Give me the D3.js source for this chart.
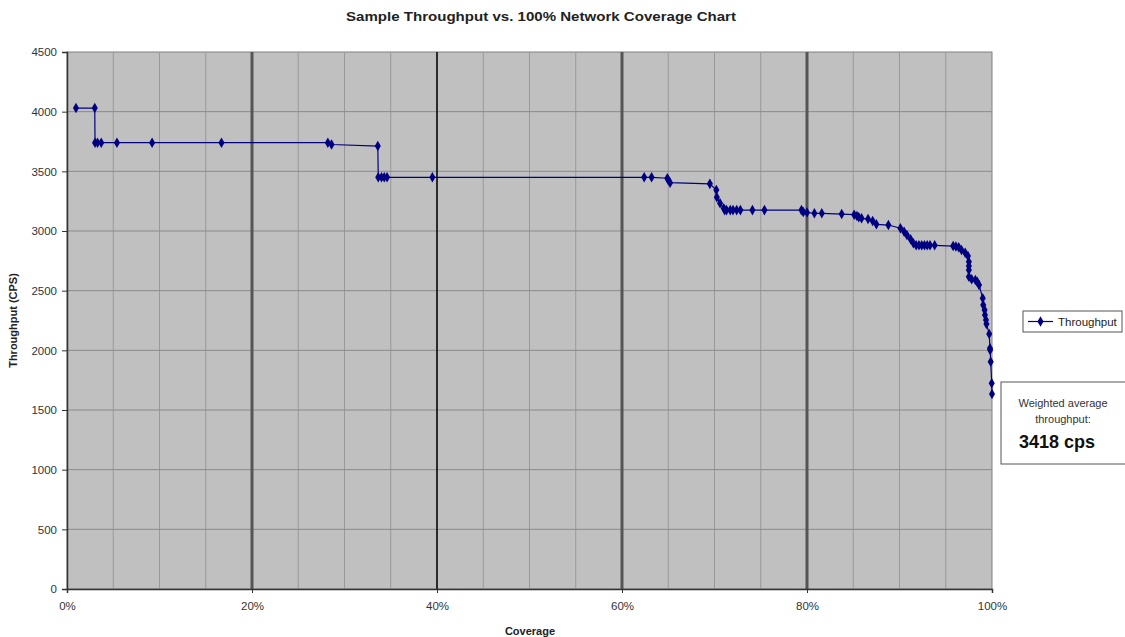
<!DOCTYPE html>
<html>
<head>
<meta charset="utf-8">
<script src="https://cdn.jsdelivr.net/npm/d3@7"></script>
<style>
  html, body { margin: 0; padding: 0; background: #fff; }
  svg { display: block; font-family: "Liberation Sans", Arial, sans-serif; }
</style>
</head>
<body>
<svg id="chart" width="1125" height="637"></svg>
<script>
// values
const coverage = [
  0.97, 3.0, 3.03, 3.3, 3.7, 5.4, 9.2, 16.7, 28.2, 28.6,
  33.6, 33.65, 34.0, 34.3, 34.6, 39.5, 62.4, 63.2,
  64.9, 65.0, 65.2, 69.5, 70.2, 70.25, 70.6, 71.0,
  71.1, 71.3, 71.7, 72.0, 72.4, 72.8, 74.1, 75.4, 79.4,
  79.6, 80.0, 80.8, 81.6, 83.75, 85.1, 85.4, 85.6, 85.9, 86.6,
  87.1, 87.5, 88.8, 90.1, 90.5, 90.8, 91.2, 91.5,
  91.8, 92.1, 92.4, 92.7, 93.0, 93.3, 93.8,
  95.8, 96.1, 96.4, 96.7, 97.1, 97.4, 97.5, 97.5, 97.5, 97.5,
  97.8, 98.2, 98.4, 98.6, 99.0, 99.05, 99.2, 99.24, 99.35, 99.4,
  99.7, 99.78, 99.8, 99.86, 99.97, 100
];
const throughput = [
  4030, 4030, 3740, 3740, 3740, 3740, 3740, 3740, 3740, 3725,
  3712, 3450, 3450, 3450, 3450, 3450, 3450, 3450,
  3442, 3427, 3405, 3395, 3344, 3282, 3232, 3190,
  3175, 3175, 3175, 3175, 3175, 3175, 3175, 3175, 3175,
  3160, 3155, 3148, 3148, 3142, 3137, 3126, 3115, 3106, 3100,
  3084, 3056, 3050, 3023, 2994, 2967, 2930, 2897,
  2880, 2880, 2880, 2880, 2880, 2880, 2880,
  2874, 2870, 2863, 2841, 2818, 2791, 2743, 2707, 2673, 2617,
  2595, 2589, 2575, 2548, 2436, 2380, 2338, 2296, 2254, 2221,
  2137, 2017, 2003, 1905, 1724, 1634
];

const yTicks = [0, 500, 1000, 1500, 2000, 2500, 3000, 3500, 4000, 4500];
const xTicks = [0, 20, 40, 60, 80, 100];
const heavyLines = [20, 60, 80];   // thick grey verticals
const blackLines = [40];           // thin black vertical

const titleText = "Sample Throughput vs. 100% Network Coverage Chart";
const noteLines = ["Weighted average", "throughput:"];
const noteValue = "3418 cps";

const rows = coverage.map((c, i) => ({ c: c, t: throughput[i] }));

const svg = d3.select("#chart");
const margin = { top: 52, left: 67, right: 133, bottom: 48 };
const W = 1125, H = 637;
const innerW = W - margin.left - margin.right;
const innerH = H - margin.top - margin.bottom;

const x = d3.scaleLinear().domain([0, 100]).range([margin.left, margin.left + innerW]);
const y = d3.scaleLinear().domain([0, 4500]).range([margin.top + innerH, margin.top]);

// plot background
svg.append("rect")
  .attr("x", x(0)).attr("y", y(4500))
  .attr("width", innerW).attr("height", innerH)
  .attr("fill", "#c0c0c0")
  .attr("stroke", "#808080");

// grid
svg.append("g").selectAll("line")
  .data(d3.range(5, 100, 5))
  .join("line")
  .attr("x1", d => x(d)).attr("x2", d => x(d))
  .attr("y1", y(0)).attr("y2", y(4500))
  .attr("stroke", "#999")
  .attr("stroke-width", 1);

svg.append("g").selectAll("line")
  .data(yTicks.slice(1, -1))
  .join("line")
  .attr("x1", x(0)).attr("x2", x(100))
  .attr("y1", d => y(d)).attr("y2", d => y(d))
  .attr("stroke", "#8a8a8a")
  .attr("stroke-width", 1);

svg.append("g").selectAll("line")
  .data(heavyLines)
  .join("line")
  .attr("x1", d => x(d)).attr("x2", d => x(d))
  .attr("y1", y(0)).attr("y2", y(4500))
  .attr("stroke", "#555")
  .attr("stroke-width", 3);

svg.append("g").selectAll("line")
  .data(blackLines)
  .join("line")
  .attr("x1", d => x(d)).attr("x2", d => x(d))
  .attr("y1", y(0)).attr("y2", y(4500))
  .attr("stroke", "#000")
  .attr("stroke-width", 1.5);

// axes
const yAxis = svg.append("g")
  .attr("transform", `translate(${x(0)},0)`)
  .call(d3.axisLeft(y).tickValues(yTicks).tickSize(5).tickPadding(5).tickFormat(d3.format("d")));
const xAxis = svg.append("g")
  .attr("transform", `translate(0,${y(0)})`)
  .call(d3.axisBottom(x).tickValues(xTicks).tickSize(4).tickPadding(9).tickFormat(d => d + "%"));

[yAxis, xAxis].forEach(a => {
  a.select(".domain").attr("stroke", "#333").attr("stroke-width", 1.5);
  a.selectAll(".tick line").attr("stroke", "#333");
  a.selectAll(".tick text")
    .attr("fill", "#333")
    .style("font-size", "11.5px")
    .style("font-family", "'Liberation Sans', Arial, sans-serif");
});

// series
const line = d3.line().x(d => x(d.c)).y(d => y(d.t));
svg.append("path")
  .datum(rows)
  .attr("d", line)
  .attr("fill", "none")
  .attr("stroke", "#000080")
  .attr("stroke-width", 1.2);

const diamond = d3.symbol().type(d3.symbolDiamond).size(32);
svg.append("g").selectAll("path")
  .data(rows)
  .join("path")
  .attr("transform", d => `translate(${x(d.c)},${y(d.t)})`)
  .attr("d", diamond)
  .attr("fill", "#000080");

// title and axis labels
svg.append("text")
  .attr("x", 541).attr("y", 21)
  .attr("text-anchor", "middle")
  .attr("textLength", 390).attr("lengthAdjust", "spacingAndGlyphs")
  .style("font-size", "13px").style("font-weight", "bold")
  .attr("fill", "#222")
  .text(titleText);

svg.append("text")
  .attr("transform", `translate(17,${margin.top + innerH / 2}) rotate(-90)`)
  .attr("text-anchor", "middle")
  .style("font-size", "11px").style("font-weight", "bold")
  .attr("fill", "#222")
  .text("Throughput (CPS)");

svg.append("text")
  .attr("x", 530).attr("y", 635)
  .attr("text-anchor", "middle")
  .style("font-size", "11px").style("font-weight", "bold")
  .attr("fill", "#222")
  .text("Coverage");

// legend
const lg = svg.append("g").attr("transform", "translate(1023,311)");
lg.append("rect")
  .attr("width", 99).attr("height", 21)
  .attr("fill", "#fff").attr("stroke", "#555");
lg.append("line")
  .attr("x1", 5).attr("x2", 30).attr("y1", 10.5).attr("y2", 10.5)
  .attr("stroke", "#000080").attr("stroke-width", 1.2);
lg.append("path")
  .attr("transform", "translate(17.5,10.5)")
  .attr("d", diamond).attr("fill", "#000080");
lg.append("text")
  .attr("x", 35).attr("y", 15)
  .style("font-size", "11.5px").attr("fill", "#222")
  .text("Throughput");

// note box
const nb = svg.append("g").attr("transform", "translate(1001,382)");
nb.append("rect")
  .attr("width", 130).attr("height", 82)
  .attr("fill", "#fff").attr("stroke", "#555");
nb.selectAll("text.n")
  .data(noteLines)
  .join("text")
  .attr("class", "n")
  .attr("x", 62).attr("y", (d, i) => 25 + i * 16)
  .attr("text-anchor", "middle")
  .style("font-size", "11px").attr("fill", "#333")
  .text(d => d);
nb.append("text")
  .attr("x", 56).attr("y", 66)
  .attr("text-anchor", "middle")
  .style("font-size", "18px").style("font-weight", "bold")
  .attr("fill", "#111")
  .text(noteValue);
</script>
</body>
</html>
